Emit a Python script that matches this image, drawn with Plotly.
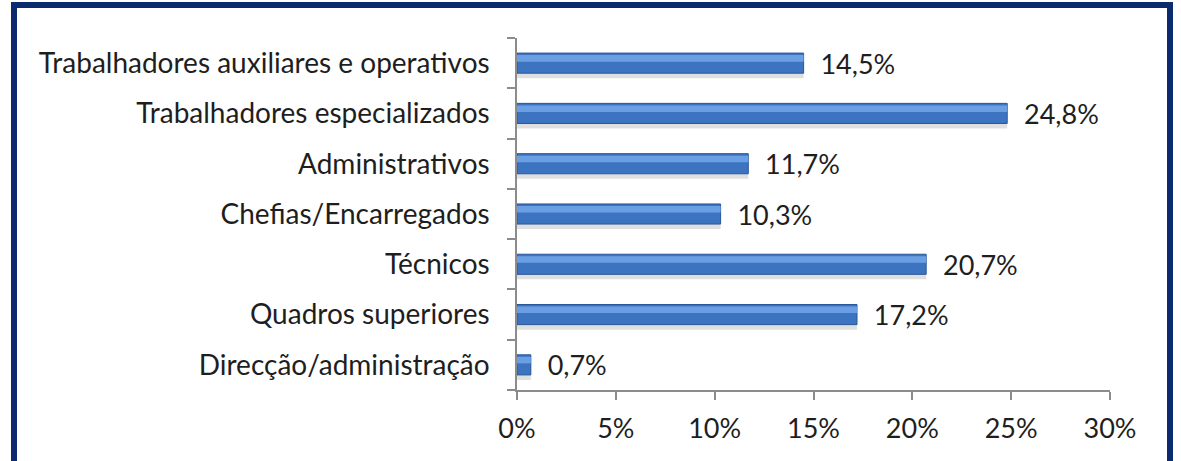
import plotly.graph_objects as go

categories = [
    "Direcção/administração",
    "Quadros superiores",
    "Técnicos",
    "Chefias/Encarregados",
    "Administrativos",
    "Trabalhadores especializados",
    "Trabalhadores auxiliares e operativos",
]
values = [0.7, 17.2, 20.7, 10.3, 11.7, 24.8, 14.5]
x_ticks = [0, 5, 10, 15, 20, 25, 30]
x_tick_text = ["0%", "5%", "10%", "15%", "20%", "25%", "30%"]

W, H = 1181, 461
ML, MR, MT, MB = 517, 71, 38, 71
PW, PH = W - ML - MR, H - MT - MB

def px_to_paper_x(px):
    return (px - ML) / PW

def px_to_paper_y(py):
    return (H - MB - py) / PH

font_family = "Lato, Open Sans, sans-serif"
text_color = "#1e1e1e"
FS_CAT = 28
FS_VAL = 27
FS_TICK = 27

fig = go.Figure()

# soft shadow
fig.add_trace(go.Bar(
    y=categories, x=values, orientation="h",
    width=0.4, offset=-0.3,
    marker=dict(color="rgba(110,110,110,0.22)", line=dict(width=0)),
    hoverinfo="skip", showlegend=False,
))
# main bar
fig.add_trace(go.Bar(
    y=categories, x=values, orientation="h",
    width=0.4, offset=-0.2,
    marker=dict(color="#3c74c2", line=dict(color="#2b5697", width=1)),
    texttemplate="  %{x:.1f}%", textposition="outside",
    constraintext="none",
    textfont=dict(size=FS_VAL, color=text_color, family=font_family),
    cliponaxis=False,
    showlegend=False,
))
# highlight
fig.add_trace(go.Bar(
    y=categories, x=values, orientation="h",
    width=0.13, offset=0.03,
    marker=dict(color="#6aa0e3", line=dict(width=0)),
    hoverinfo="skip", showlegend=False,
))

fig.update_layout(
    width=W, height=H,
    margin=dict(l=ML, r=MR, t=MT, b=MB, pad=0),
    barmode="overlay",
    separators=", ",
    paper_bgcolor="white", plot_bgcolor="white",
    font=dict(family=font_family, size=FS_CAT, color=text_color),
    showlegend=False,
    shapes=[dict(
        type="rect", xref="paper", yref="paper",
        x0=px_to_paper_x(14), x1=px_to_paper_x(1170),
        y0=px_to_paper_y(480), y1=px_to_paper_y(5),
        line=dict(color="#0b2b6e", width=6),
        fillcolor="rgba(0,0,0,0)", layer="above",
    )],
)

fig.update_xaxes(
    range=[0, 30], tickmode="array", tickvals=x_ticks, ticktext=x_tick_text,
    showgrid=False, zeroline=False,
    showline=True, linecolor="#8c8c8c", linewidth=1.5,
    ticks="outside", ticklen=8, tickcolor="#8c8c8c", tickwidth=1.5,
    tickfont=dict(size=FS_TICK, color=text_color, family=font_family),
    ticklabelstandoff=6,
)
fig.update_yaxes(
    type="category", categoryorder="array", categoryarray=categories,
    range=[-0.5, 6.5],
    showgrid=False, zeroline=False,
    showline=True, linecolor="#8c8c8c", linewidth=1.5,
    ticks="outside", ticklen=8, tickcolor="#8c8c8c", tickwidth=1.5,
    tickson="boundaries",
    tickfont=dict(size=FS_CAT, color=text_color, family=font_family),
    ticklabelstandoff=20,
)

fig.write_html("out.html")
